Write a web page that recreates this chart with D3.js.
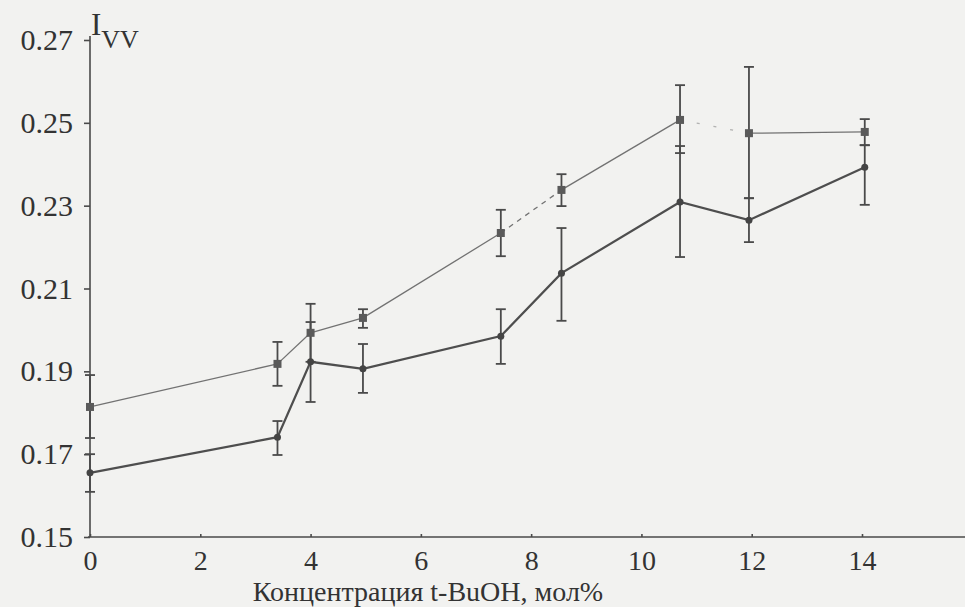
<!DOCTYPE html>
<html>
<head>
<meta charset="utf-8">
<script src="https://cdn.jsdelivr.net/npm/d3@7"></script>
<style>
  html, body { margin: 0; padding: 0; background: #f2f2f0; }
  svg { display: block; }
  text { font-family: "Liberation Serif", "DejaVu Serif", serif; fill: #333; }
  .axis .domain, .axis line { stroke: #4a4a4a; stroke-width: 1.6; }
  .axis text { fill: #333; }
</style>
</head>
<body>
<div id="chart"></div>
<script>
// I_VV vs t-BuOH concentration, two series with error bars
const conc = [0, 3.4, 4.0, 4.95, 7.45, 8.55, 10.7, 11.95, 14.05];

// upper series (squares, thin line)
const upperVal = [0.1814, 0.1918, 0.1993, 0.2029, 0.2234, 0.2338, 0.2507, 0.2475, 0.2478];
const upperLo  = [0.1739, 0.1865, 0.1923, 0.2005, 0.2178, 0.2299, 0.2427, 0.2318, 0.2446];
const upperHi  = [0.1891, 0.1971, 0.2063, 0.2050, 0.2290, 0.2376, 0.2591, 0.2635, 0.2509];

// lower series (circles, heavy line)
const lowerVal = [0.1655, 0.1741, 0.1923, 0.1906, 0.1985, 0.2137, 0.2309, 0.2265, 0.2393];
const lowerLo  = [0.1609, 0.1698, 0.1826, 0.1848, 0.1918, 0.2022, 0.2176, 0.2212, 0.2302];
const lowerHi  = [0.1700, 0.1780, 0.2019, 0.1966, 0.2050, 0.2246, 0.2444, 0.2318, 0.2446];

const xTicks = [0, 2, 4, 6, 8, 10, 12, 14];
const yTicks = [0.15, 0.17, 0.19, 0.21, 0.23, 0.25, 0.27];
const xTitle = "Концентрация t-BuOH, мол%";

(function () {
  const W = 965, H = 607;
  const FONT = "Liberation Serif, DejaVu Serif, serif";
  const svg = d3.select("#chart").append("svg").attr("width", W).attr("height", H);

  const x = d3.scaleLinear().domain([0, 14]).range([90, 862]);
  const y = d3.scaleLinear().domain([0.15, 0.27]).range([537, 40]);

  // ---------- axes ----------
  svg.append("g").attr("class", "axis").attr("transform", `translate(0,${y(0.15)})`)
    .call(d3.axisBottom(x).tickValues(xTicks).tickSize(-3).tickPadding(13).tickSizeOuter(0))
    .call(g => g.attr("font-family", FONT).attr("font-size", 28))
    .call(g => g.select(".domain").attr("d", `M${x(0) - 2},0H${W}`));

  svg.append("g").attr("class", "axis").attr("transform", `translate(${x(0)},0)`)
    .call(d3.axisLeft(y).tickValues(yTicks).tickFormat(d3.format(".2f")).tickSize(6).tickPadding(11).tickSizeOuter(0))
    .call(g => g.attr("font-family", FONT).attr("font-size", 30))
    .call(g => g.select(".domain").attr("d", `M0,${y(0.27) - 4}V${y(0.15)}`));

  svg.append("text").attr("x", 428).attr("y", 601).attr("text-anchor", "middle")
    .attr("font-family", FONT).style("font-size", "28px").text(xTitle);

  const lab = svg.append("text").attr("x", 91).attr("y", 35).attr("font-family", FONT).style("font-size", "31px");
  lab.append("tspan").text("I");
  lab.append("tspan").attr("dy", 13).style("font-size", "26px").text("VV");

  // ---------- series ----------
  const upper = conc.map((c, i) => ({ c, v: upperVal[i], lo: upperLo[i], hi: upperHi[i] }));
  const lower = conc.map((c, i) => ({ c, v: lowerVal[i], lo: lowerLo[i], hi: lowerHi[i] }));

  // upper line is broken / dashed in places on the original
  const upperSeg = ["solid", "solid", "solid", "solid", "dash", "solid", "faint", "solid"];
  const segs = d3.pairs(upper).map((p, i) => ({ a: p[0], b: p[1], s: upperSeg[i] }));
  svg.append("g").selectAll("line").data(segs).join("line")
    .attr("x1", d => x(d.a.c)).attr("y1", d => y(d.a.v))
    .attr("x2", d => x(d.b.c)).attr("y2", d => y(d.b.v))
    .attr("stroke", "#727272").attr("stroke-width", 1.3)
    .attr("stroke-dasharray", d => d.s === "dash" ? "5,5" : d.s === "faint" ? "3,14" : null)
    .attr("stroke-opacity", d => d.s === "faint" ? 0.5 : 1);

  svg.append("path").datum(lower)
    .attr("fill", "none").attr("stroke", "#4e4e4e").attr("stroke-width", 2.2)
    .attr("d", d3.line().x(d => x(d.c)).y(d => y(d.v)));

  function errorBars(data, w) {
    const g = svg.append("g").attr("stroke", "#4a4a4a").attr("stroke-width", 1.8);
    g.selectAll("line.v").data(data).join("line").attr("class", "v")
      .attr("x1", d => x(d.c)).attr("x2", d => x(d.c)).attr("y1", d => y(d.lo)).attr("y2", d => y(d.hi));
    ["lo", "hi"].forEach(k => {
      g.selectAll(`line.${k}`).data(data).join("line").attr("class", k)
        .attr("x1", d => x(d.c) - w).attr("x2", d => x(d.c) + w)
        .attr("y1", d => y(d[k])).attr("y2", d => y(d[k]));
    });
  }
  errorBars(upper, 5);
  errorBars(lower, 5);

  svg.append("g").selectAll("rect").data(upper).join("rect")
    .attr("x", d => x(d.c) - 4).attr("y", d => y(d.v) - 4).attr("width", 8).attr("height", 8)
    .attr("fill", "#5a5a5a");
  svg.append("g").selectAll("circle").data(lower).join("circle")
    .attr("cx", d => x(d.c)).attr("cy", d => y(d.v)).attr("r", 3.5)
    .attr("fill", "#444");
})();
</script>
</body>
</html>
